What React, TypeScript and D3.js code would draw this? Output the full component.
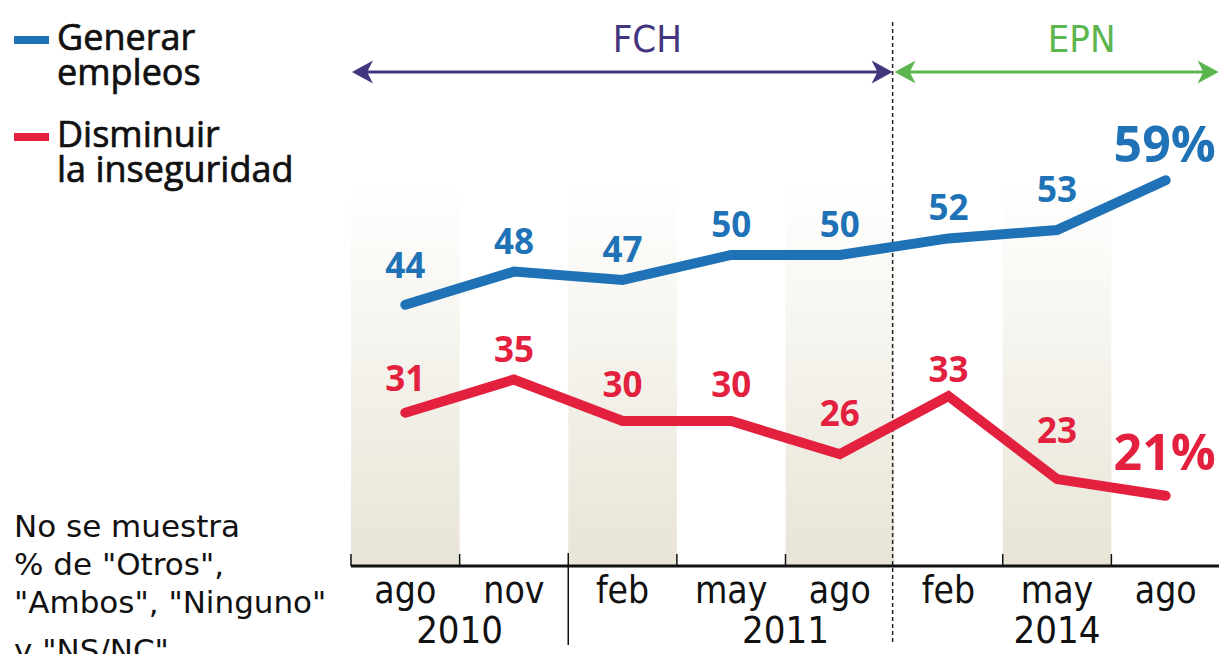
import React from "react";
import * as d3 from "d3";

const months = ["ago", "nov", "feb", "may", "ago", "feb", "may", "ago"];
const empleos = [44, 48, 47, 50, 50, 52, 53, 59];
const inseguridad = [31, 35, 30, 30, 26, 33, 23, 21];
const years = [
  { label: "2010", at: 0.5 },
  { label: "2011", at: 3.5 },
  { label: "2014", at: 6 },
];
const shaded = [0, 2, 4, 6];
const yearBreaks = [2];
const periodBreak = 5;
const periods = [
  { label: "FCH", from: 0, to: 5, color: "#44357f" },
  { label: "EPN", from: 5, to: 8, color: "#5cb54f" },
];
const legend = [
  { lines: ["Generar", "empleos"], color: "#2072b6" },
  { lines: ["Disminuir", "la inseguridad"], color: "#e3213f" },
];
const noteLines = ["No se muestra", '% de "Otros",', '"Ambos", "Ninguno"', 'y "NS/NC"'];
// label nudges (px above the point)
const blueDy = [27, 18, 18, 18, 18, 18, 28, 18];
const redDy = [22, 18, 24, 24, 28, 14, 36, 26];

const W = 1219;
const H = 654;
const BLUE = "#2072b6";
const RED = "#e3213f";
const NUM_FONT = "'Open Sans', 'Noto Sans', sans-serif";
const COND_FONT = "'DejaVu Sans Condensed', 'DejaVu Sans', sans-serif";
const NOTE_FONT = "'DejaVu Sans', sans-serif";

export default function App() {
  const x = d3
    .scaleBand<number>()
    .domain(d3.range(months.length))
    .range([351, 1220])
    .paddingInner(0)
    .paddingOuter(0);
  const bw = x.bandwidth();
  const cx = (i: number) => (x(i) as number) + bw / 2;
  const edge = (i: number) => 351 + i * bw;
  const y = d3.scaleLinear().domain([0, 60]).range([670, 172]);
  const baseY = 566;
  const shadeTop = 183;

  const line = d3
    .line<number>()
    .x((_, i) => cx(i))
    .y((d) => y(d));

  const arrowY = 72;
  const head = (tipX: number, dir: number) => {
    const L = 21;
    const h = 11.5;
    const back = tipX - dir * L;
    const notch = tipX - dir * L * 0.72;
    return `M${tipX},${arrowY} L${back},${arrowY - h} L${notch},${arrowY} L${back},${arrowY + h} Z`;
  };

  return (
    <svg
      width={W}
      height={H}
      style={{ position: "absolute", left: 0, top: 0, background: "#fff" }}
    >
      <defs>
        <linearGradient id="shade" x1="0" y1="0" x2="0" y2="1">
          <stop offset="0" stopColor="#e8e4d6" stopOpacity="0" />
          <stop offset="1" stopColor="#e8e4d6" stopOpacity="1" />
        </linearGradient>
      </defs>

      {/* shaded columns */}
      {shaded.map((i) => (
        <rect
          key={"s" + i}
          x={x(i)}
          y={shadeTop}
          width={bw}
          height={baseY - shadeTop}
          fill="url(#shade)"
        />
      ))}

      {/* period separator dashed line */}
      <line
        x1={edge(periodBreak) - 1.5}
        x2={edge(periodBreak) - 1.5}
        y1={22}
        y2={645}
        stroke="#222"
        strokeWidth={1.5}
        strokeDasharray="4 3"
      />

      {/* period arrows */}
      {periods.map((p, k) => {
        const x0 = edge(p.from) + (k === 0 ? 1 : 0.5);
        const x1 = Math.min(edge(p.to), W) - (k === 0 ? 1.5 : 0.5);
        return (
          <g key={p.label}>
            <line
              x1={x0 + 8}
              x2={x1 - 8}
              y1={arrowY}
              y2={arrowY}
              stroke={p.color}
              strokeWidth={3}
            />
            <path d={head(x0, -1)} fill={p.color} />
            <path d={head(x1, 1)} fill={p.color} />
            <text
              x={(x0 + x1) / 2 + 25}
              y={52}
              textAnchor="middle"
              fontFamily={COND_FONT}
              fontSize={38}
              fill={p.color}
            >
              {p.label}
            </text>
          </g>
        );
      })}

      {/* axis baseline and ticks */}
      <line x1={351} x2={W} y1={baseY} y2={baseY} stroke="#111" strokeWidth={3} />
      {d3.range(months.length).map((i) =>
        i === periodBreak ? null : (
          <line
            key={"t" + i}
            x1={edge(i)}
            x2={edge(i)}
            y1={yearBreaks.includes(i) ? 553 : 554}
            y2={yearBreaks.includes(i) ? 645 : baseY}
            stroke="#111"
            strokeWidth={1.5}
          />
        )
      )}

      {/* month labels */}
      {months.map((m, i) => (
        <text
          key={"m" + i}
          x={cx(i)}
          y={603}
          textAnchor="middle"
          fontFamily={COND_FONT}
          fontSize={37}
          fill="#111"
        >
          {m}
        </text>
      ))}
      {years.map((yr) => (
        <text
          key={yr.label}
          x={351 + (yr.at + 0.5) * bw}
          y={643}
          textAnchor="middle"
          fontFamily={COND_FONT}
          fontSize={38}
          fill="#111"
        >
          {yr.label}
        </text>
      ))}

      {/* lines */}
      <path
        d={line(empleos) as string}
        fill="none"
        stroke={BLUE}
        strokeWidth={10}
        strokeLinecap="round"
        strokeLinejoin="miter"
      />
      <path
        d={line(inseguridad) as string}
        fill="none"
        stroke={RED}
        strokeWidth={10}
        strokeLinecap="round"
        strokeLinejoin="miter"
      />

      {/* value labels */}
      {empleos.map((v, i) => {
        const last = i === empleos.length - 1;
        return (
          <text
            key={"b" + i}
            x={cx(i) - (last ? 1 : 0)}
            y={y(v) - blueDy[i]}
            textAnchor="middle"
            fontFamily={NUM_FONT}
            fontWeight={700}
            fontSize={last ? 50 : 35}
            fill={BLUE}
          >
            {last ? `${v}%` : v}
          </text>
        );
      })}
      {inseguridad.map((v, i) => {
        const last = i === inseguridad.length - 1;
        return (
          <text
            key={"r" + i}
            x={cx(i) - (last ? 1 : 0)}
            y={y(v) - redDy[i]}
            textAnchor="middle"
            fontFamily={NUM_FONT}
            fontWeight={700}
            fontSize={last ? 50 : 35}
            fill={RED}
          >
            {last ? `${v}%` : v}
          </text>
        );
      })}

      {/* legend */}
      {legend.map((l, k) => {
        const top = 50 + k * 97;
        return (
          <g key={"l" + k}>
            <rect x={14} y={top - 14} width={35} height={8} fill={l.color} />
            {l.lines.map((t, j) => (
              <text
                key={j}
                x={57}
                y={top + j * 35}
                fontFamily={NUM_FONT}
                fontWeight={500}
                fontSize={36}
                fill="#111"
                stroke="#111"
                strokeWidth={0.7}
              >
                {t}
              </text>
            ))}
          </g>
        );
      })}

      {/* footnote */}
      {noteLines.map((t, j) => (
        <text
          key={"n" + j}
          x={14}
          y={537 + j * 38 + (j === 3 ? 10 : 0)}
          fontFamily={NOTE_FONT}
          fontSize={31}
          fill="#111"
        >
          {t}
        </text>
      ))}
    </svg>
  );
}
